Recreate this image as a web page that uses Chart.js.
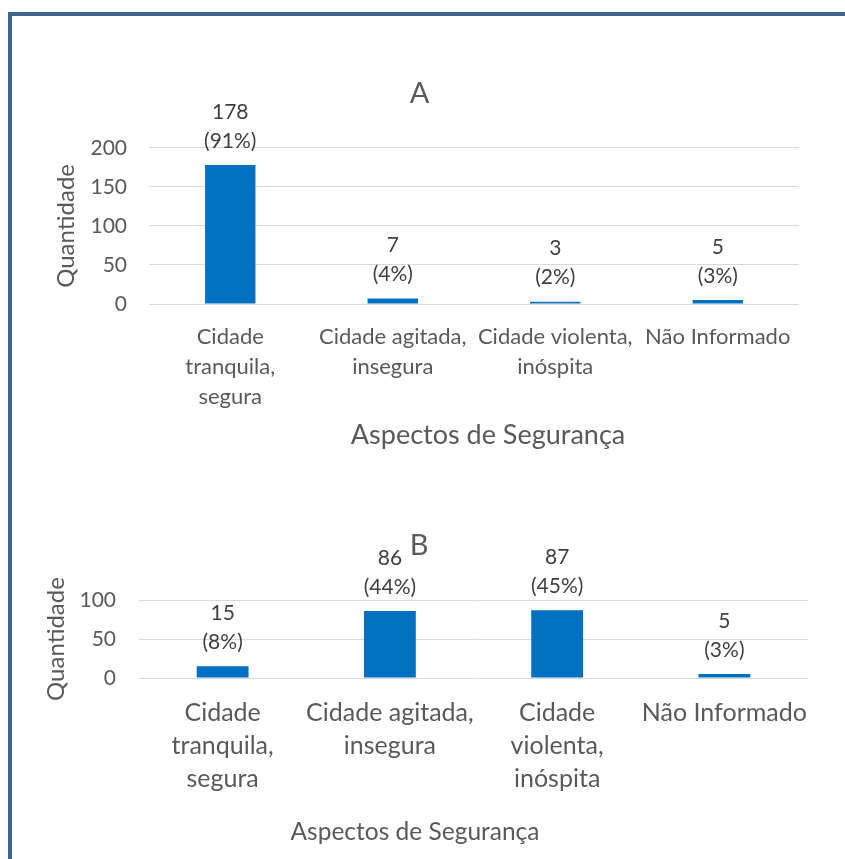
<!DOCTYPE html>
<html>
<head>
<meta charset="utf-8">
<script src="https://cdn.jsdelivr.net/npm/chart.js@4.4.1/dist/chart.umd.min.js"></script>
<style>
  html, body { margin: 0; padding: 0; background: #ffffff; }
  body { width: 845px; height: 859px; position: relative; overflow: hidden; }
  .frame {
    position: absolute; left: 8px; top: 12px; right: -10px; bottom: -10px;
    border-left: 4px solid #41648f; border-top: 4px solid #41648f;
  }
  canvas { position: absolute; left: 0; }
  #chartA { top: 0; }
  #chartB { top: 450px; }
</style>
</head>
<body>
<div class="frame"></div>
<canvas id="chartA" width="845" height="450"></canvas>
<canvas id="chartB" width="845" height="409"></canvas>
<script>
// Panel A
const categoriesA = [
  ['Cidade', 'tranquila,', 'segura'],
  ['Cidade agitada,', 'insegura'],
  ['Cidade violenta,', 'inóspita'],
  ['Não Informado']
];
const quantidadeA = [178, 7, 3, 5];
const percentA = [91, 4, 2, 3];

// Panel B
const categoriesB = [
  ['Cidade', 'tranquila,', 'segura'],
  ['Cidade agitada,', 'insegura'],
  ['Cidade', 'violenta,', 'inóspita'],
  ['Não Informado']
];
const quantidadeB = [15, 86, 87, 5];
const percentB = [8, 44, 45, 3];

const FONT = 'Lato, "Noto Sans", sans-serif';
const GREY = '#595959';
const BAR = '#0070C0';

Chart.defaults.font.family = FONT;
Chart.defaults.color = GREY;

// Two-line value labels above each bar: count, then "(pct%)"
const barLabels = {
  id: 'barLabels',
  afterDatasetsDraw(chart, args, opts) {
    const { ctx } = chart;
    const meta = chart.getDatasetMeta(0);
    const values = chart.data.datasets[0].data;
    ctx.save();
    ctx.font = `${opts.size}px ${FONT}`;
    ctx.fillStyle = opts.color;
    ctx.textAlign = 'center';
    ctx.textBaseline = 'middle';
    meta.data.forEach((bar, i) => {
      const yPct = bar.y - opts.offset;
      ctx.fillText(`(${opts.percents[i]}%)`, bar.x, yPct);
      ctx.fillText(String(values[i]), bar.x, yPct - opts.spacing);
    });
    ctx.restore();
  }
};

// Horizontal axis caption
const axisCaption = {
  id: 'axisCaption',
  afterDraw(chart, args, opts) {
    const { ctx } = chart;
    ctx.save();
    ctx.font = `${opts.size}px ${FONT}`;
    ctx.fillStyle = GREY;
    ctx.textAlign = 'center';
    ctx.textBaseline = 'middle';
    ctx.fillText(opts.text, opts.x, opts.y);
    ctx.restore();
  }
};

function makeChart(id, cfg) {
  return new Chart(document.getElementById(id), {
    type: 'bar',
    data: {
      labels: cfg.labels,
      datasets: [{
        data: cfg.values,
        backgroundColor: BAR,
        barPercentage: 0.31,
        categoryPercentage: 1
      }]
    },
    options: {
      responsive: false,
      animation: false,
      layout: { padding: cfg.padding },
      plugins: {
        legend: { display: false },
        tooltip: { enabled: false },
        title: {
          display: true, text: cfg.title, color: GREY,
          font: { size: 29, weight: 'normal' },
          padding: cfg.titlePadding
        },
        barLabels: { percents: cfg.percents, offset: 24, spacing: 29, size: 21, color: '#404040' },
        axisCaption: { text: 'Aspectos de Segurança', size: cfg.captionSize, x: cfg.captionX, y: cfg.captionY }
      },
      scales: {
        x: {
          grid: { display: false },
          border: { display: false },
          ticks: {
            color: GREY, autoSkip: false, maxRotation: 0,
            font: { size: cfg.tickSize, lineHeight: cfg.tickLineHeight },
            padding: cfg.tickPadding
          },
          afterFit(s) { s.height = cfg.xHeight; }
        },
        y: {
          min: 0, max: cfg.max,
          ticks: { stepSize: 50, color: GREY, font: { size: 21 }, padding: cfg.yTickPadding },
          grid: { color: '#d9d9d9', drawTicks: false },
          border: { display: false },
          title: {
            display: true, text: 'Quantidade', color: GREY,
            font: { size: 24 }, padding: { top: cfg.yTitlePad, bottom: 0 }
          },
          afterFit(s) { s.width = 109; }
        }
      }
    },
    plugins: [barLabels, axisCaption]
  });
}

makeChart('chartA', {
  labels: categoriesA, values: quantidadeA, percents: percentA, title: 'A', max: 200,
  padding: { left: 40, right: 46, top: 0, bottom: 0 },
  titlePadding: { top: 76, bottom: 37 },
  tickSize: 22, tickLineHeight: 30 / 22, tickPadding: 10, xHeight: 146,
  yTickPadding: 22, yTitlePad: 12,
  captionSize: 27, captionX: 488, captionY: 435
});

makeChart('chartB', {
  labels: categoriesB, values: quantidadeB, percents: percentB, title: 'B', max: 100,
  padding: { left: 30, right: 37, top: 0, bottom: 0 },
  titlePadding: { top: 78.6, bottom: 36.6 },
  tickSize: 25, tickLineHeight: 33 / 25, tickPadding: 10.5, xHeight: 181,
  yTickPadding: 23, yTitlePad: 11.6,
  captionSize: 24.5, captionX: 415, captionY: 382
});
</script>
</body>
</html>
